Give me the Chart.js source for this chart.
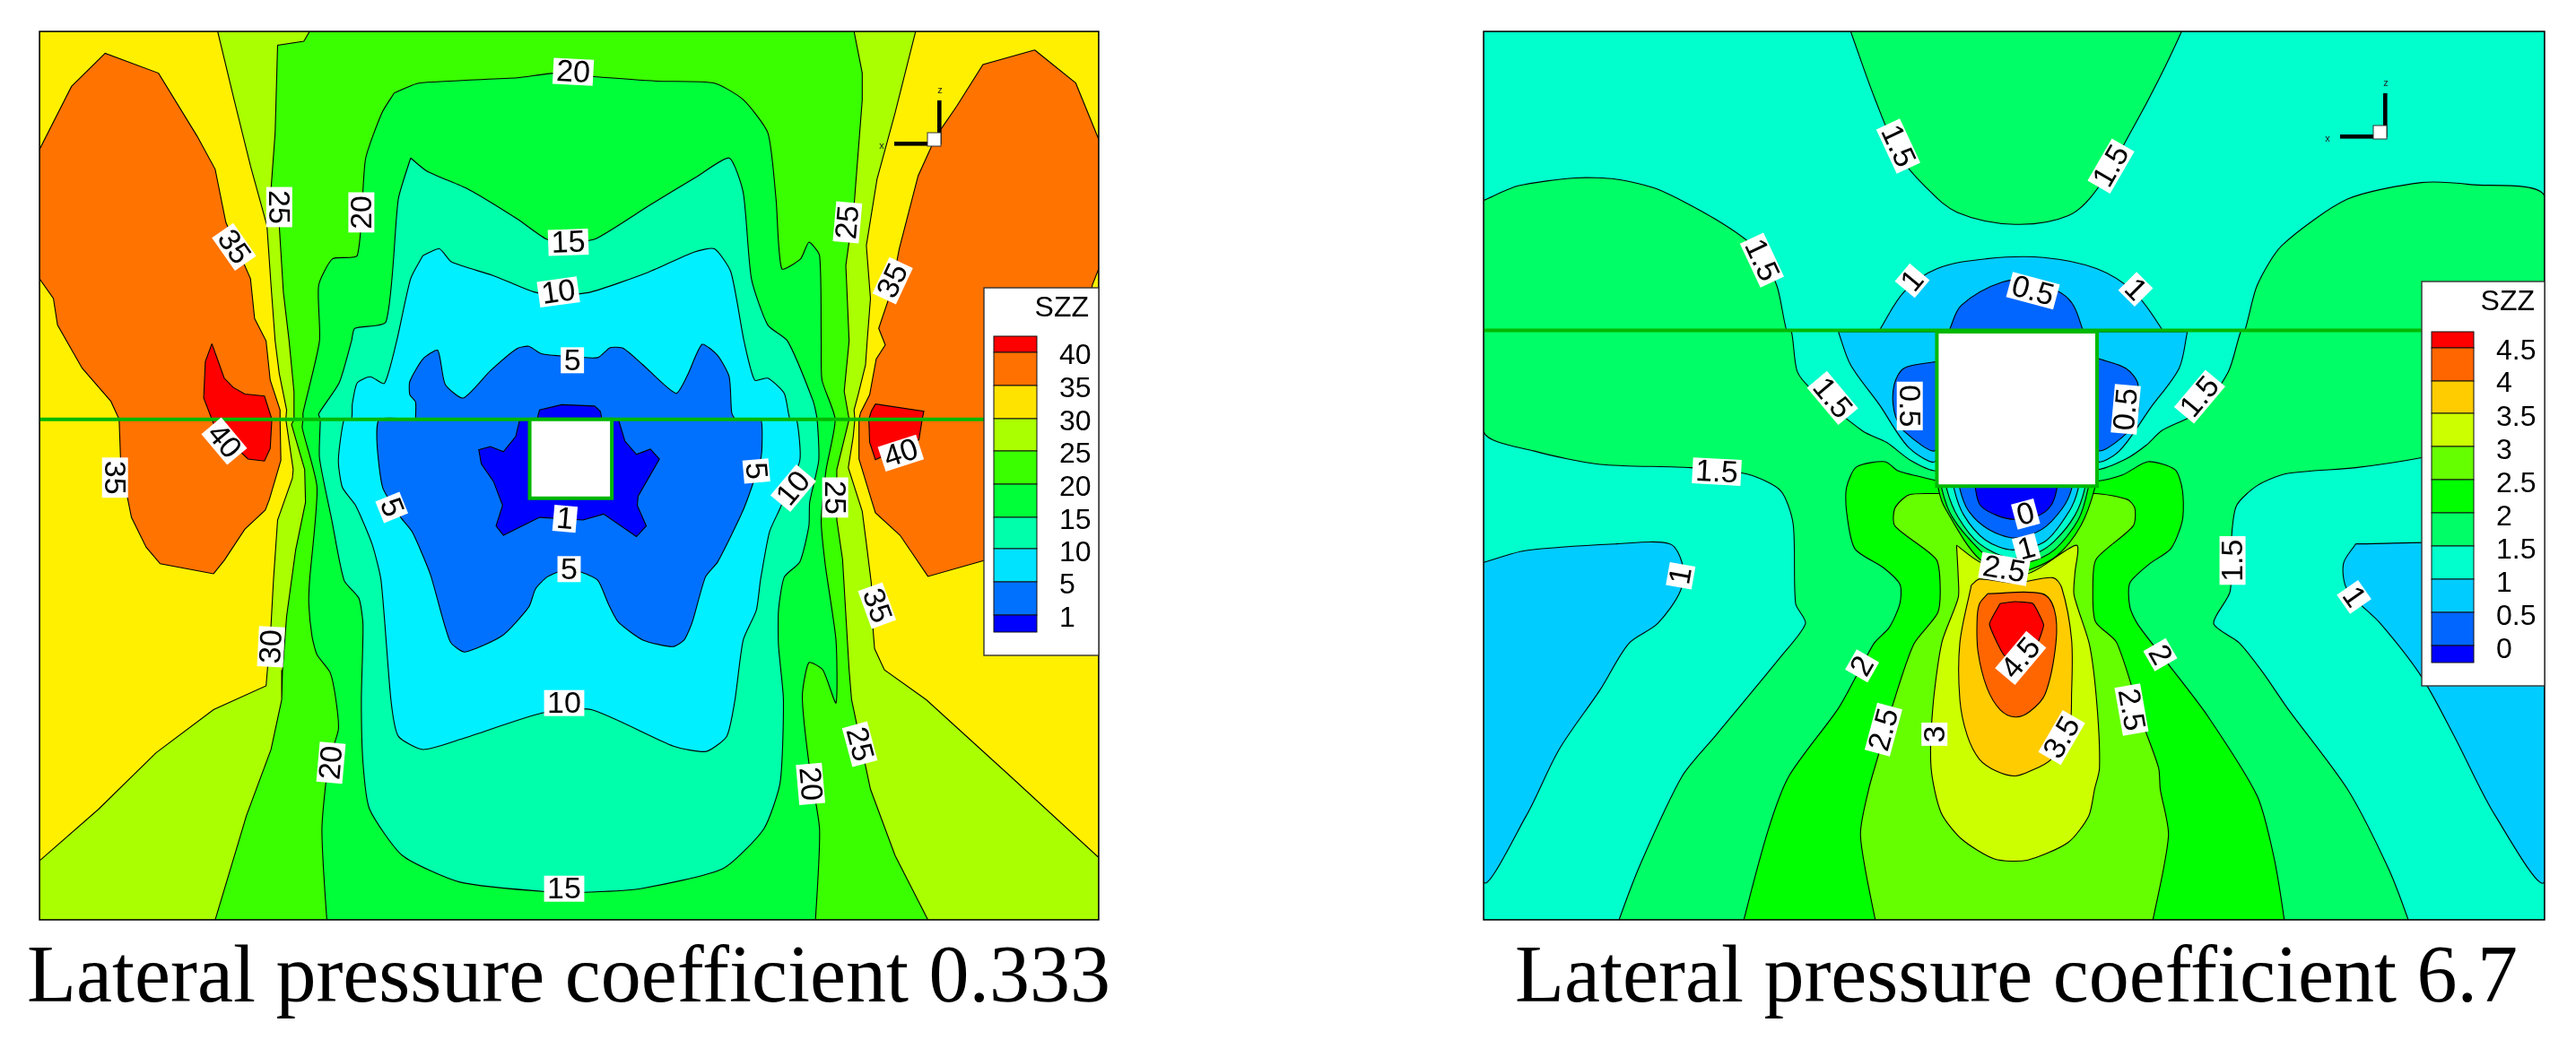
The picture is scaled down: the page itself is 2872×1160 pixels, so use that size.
<!DOCTYPE html>
<html><head><meta charset="utf-8">
<script src="https://cdn.jsdelivr.net/npm/chart.js@4/dist/chart.umd.js"></script>
<style>html,body{margin:0;background:#fff;width:2872px;height:1160px;overflow:hidden}canvas{position:absolute;top:0}</style>
</head><body>
<canvas id="a" style="left:0" width="1436" height="1160"></canvas>
<canvas id="b" style="left:1436px" width="1436" height="1160"></canvas>
<script>
// ---------- left panel: lateral pressure coefficient 0.333 ----------
const leftLevels=[40,35,30,25,20,15,10,5,1];
const leftLegendColors=['#ff0000','#ff7100','#ffe300','#aaff00','#39ff00','#00ff39','#00ffaa','#00e3ff','#0071ff','#0000ff'];
const leftTitle='Lateral pressure coefficient 0.333';
const leftBase=[[48,47],[1338,47],[1338,1387],[48,1387]];
const left35a=[[48,225],[87,130],[128,80],[193,110],[240,205],[262,255],[275,335],[305,420],[310,480],[324,514],[329,573],[341,618],[341,632],[342,694],[328,753],[323,769],[298,798],[273,845],[260,865],[195,850],[178,825],[160,780],[147,700],[145,632],[135,605],[100,555],[70,490],[65,450],[48,420]];
const left40a=[[258,518],[273,570],[284,584],[298,594],[322,597],[331,632],[329,676],[322,695],[302,692],[262,645],[248,600],[250,545]];
const left35b=[[1260,75],[1197,97],[1165,160],[1140,205],[1118,265],[1095,375],[1085,440],[1070,495],[1078,520],[1067,541],[1059,595],[1048,622],[1046,632],[1046,692],[1061,753],[1066,773],[1096,807],[1130,869],[1198,845],[1320,800],[1330,430],[1338,405],[1338,210],[1310,125]];
const left40b=[[1066,609],[1125,620],[1123,632],[1119,663],[1066,693],[1059,667],[1058,632],[1061,620]];
const left30=[[265,47],[285,150],[305,250],[325,340],[330,430],[335,514],[340,563],[349,618],[348,632],[357,708],[356,721],[338,784],[333,874],[330,942],[324,1034],[260,1070],[190,1135],[120,1220],[48,1298],[48,1387],[1338,1387],[1338,1293],[1230,1170],[1128,1055],[1077,1010],[1065,978],[1063,947],[1061,879],[1056,829],[1050,771],[1033,705],[1039,658],[1041,632],[1040,618],[1045,595],[1054,550],[1056,514],[1060,450],[1055,370],[1068,270],[1090,170],[1115,47]];
const left25=[[377,47],[370,62],[338,68],[335,200],[330,285],[340,340],[345,440],[352,514],[358,591],[358,632],[355,640],[371,708],[372,757],[360,829],[349,929],[344,1010],[343,1055],[330,1130],[300,1230],[262,1387],[1130,1387],[1090,1290],[1060,1190],[1037,1055],[1034,1010],[1026,843],[1019,784],[1019,708],[1034,632],[1028,590],[1034,514],[1030,400],[1040,310],[1045,230],[1050,150],[1050,110],[1040,47]];
const left20=[[480,140],[510,125],[630,117],[675,110],[720,115],[800,122],[870,125],[905,150],[935,200],[945,300],[952,405],[975,390],[985,365],[998,385],[1000,514],[1001,573],[1017,632],[1006,708],[1000,784],[1005,852],[1018,965],[1018,1060],[1002,1010],[985,999],[977,1050],[985,1150],[998,1250],[993,1387],[991,1387],[400,1387],[398,1387],[392,1250],[400,1150],[412,1100],[409,1055],[402,1014],[386,987],[380,960],[376,911],[377,875],[386,735],[368,645],[369,632],[369,622],[389,514],[388,430],[405,390],[435,385],[445,240],[465,170]];
const left15=[[500,238],[520,258],[570,285],[630,330],[665,360],[690,365],[725,360],[790,310],[850,265],[888,238],[905,290],[915,420],[935,490],[959,514],[990,604],[995,632],[997,694],[986,757],[985,793],[974,847],[955,870],[948,920],[948,974],[954,1055],[950,1180],[930,1250],[880,1310],[780,1340],[720,1345],[670,1345],[560,1330],[490,1290],[450,1220],[442,1150],[440,1055],[442,942],[437,902],[419,875],[404,784],[389,690],[390,632],[388,624],[413,577],[428,514],[432,495],[470,485],[485,300]];
const left10=[[515,385],[535,375],[550,395],[600,415],[650,440],[680,445],[720,440],[790,410],[845,380],[870,375],[890,410],[906,514],[919,573],[935,570],[955,593],[962,632],[970,632],[974,694],[950,766],[937,802],[926,875],[921,920],[905,965],[895,1055],[885,1110],[860,1133],[820,1125],[720,1070],[660,1075],[560,1115],[515,1130],[485,1110],[476,1055],[464,875],[453,820],[433,762],[417,735],[412,694],[419,632],[428,632],[429,609],[435,577],[451,568],[468,578],[483,514],[500,420]];
const left5=[[506,632],[506,606],[499,595],[499,575],[515,541],[533,528],[542,579],[564,600],[597,559],[630,525],[644,522],[659,533],[690,537],[728,539],[743,524],[759,525],[783,550],[823,593],[837,566],[855,519],[874,536],[888,568],[891,622],[896,632],[926,632],[928,667],[926,694],[906,766],[874,847],[859,870],[843,938],[833,965],[819,975],[783,965],[753,938],[741,911],[728,875],[706,862],[681,862],[666,870],[652,888],[644,915],[612,958],[566,983],[548,967],[524,866],[502,802],[488,780],[466,735],[459,667],[462,632]];
const left1top=[[654,632],[657,618],[684,610],[724,612],[731,620],[733,632]];
const left1low=[[633,632],[628,658],[613,681],[597,673],[583,678],[586,699],[601,726],[612,762],[604,793],[613,807],[657,780],[710,784],[735,775],[775,809],[787,793],[776,762],[777,748],[803,692],[792,677],[775,685],[761,665],[753,632]];
const leftWire=[[48,632],[1338,632]];
const leftHole=[[645,632],[745,632],[745,751],[645,751]];
const leftLabels=[['20',698,108,3],['15',692,365,-2],['10',680,440,-8],['5',697,543,0],['25',340,312,90],['20',440,320,-90],['35',285,372,55],['40',273,665,50],['35',140,720,90],['5',477,765,68],['1',688,782,5],['5',693,858,0],['30',330,975,-87],['20',403,1150,-85],['10',687,1060,0],['15',687,1340,0],['25',1032,335,-85],['35',1087,423,-65],['5',921,710,85],['10',966,736,-50],['25',1017,750,90],['40',1097,683,-18],['35',1068,913,70],['25',1047,1122,75],['20',987,1182,85]];

// ---------- right panel: lateral pressure coefficient 6.7 ----------
const rightLevels=['4.5','4','3.5','3','2.5','2','1.5','1','0.5','0'];
const rightLegendColors=['#ff0000','#ff6600','#ffcc00','#ccff00','#66ff00','#00ff00','#00ff66','#00ffcc','#00ccff','#0066ff','#0000ff'];
const rightTitle='Lateral pressure coefficient 6.7';
const rightBase=[[238,47],[1530,47],[1530,1387],[238,1387]];
const right1low=[[238,848],[290,830],[400,820],[465,820],[480,850],[478,890],[450,940],[415,970],[380,1040],[330,1130],[290,1230],[238,1328]];
const right1lowR=[[1300,820],[1285,850],[1290,890],[1330,940],[1380,1020],[1420,1110],[1470,1230],[1530,1328],[1530,848],[1440,820]];
const right15top=[[685,47],[715,150],[745,235],[775,280],[815,320],[885,338],[950,325],[985,285],[1030,190],[1060,120],[1088,47],[1086,47]];
const right15=[[238,302],[280,280],[350,268],[400,270],[450,285],[520,330],[570,375],[595,430],[607,498],[613,500],[620,560],[640,590],[700,650],[729,667],[758,694],[789,710],[985,708],[1020,692],[1045,671],[1064,649],[1110,620],[1145,560],[1160,500],[1165,498],[1180,430],[1210,370],[1290,300],[1380,275],[1440,278],[1530,296],[1530,650],[1380,690],[1300,705],[1216,714],[1180,732],[1155,762],[1149,807],[1147,892],[1127,940],[1158,969],[1187,1014],[1217,1068],[1290,1190],[1340,1310],[1364,1387],[1362,1387],[405,1387],[403,1387],[430,1300],[480,1170],[520,1110],[600,990],[630,940],[618,910],[615,790],[600,740],[560,715],[490,705],[380,700],[300,680],[238,650]];
const right1wingL=[[670,500],[685,550],[720,610],[756,675],[789,694],[790,500],[788,500]];
const right1wingR=[[1095,500],[1085,555],[1050,615],[1012,680],[985,694],[985,500],[987,500]];
const right05wingL=[[790,545],[750,555],[738,580],[738,620],[750,650],[789,678]];
const right05wingR=[[985,540],[1020,555],[1035,580],[1030,640],[985,678]];
const right1cap=[[720,498],[750,440],[790,405],[850,390],[920,388],[985,405],[1030,440],[1065,498],[1062,498]];
const right05cap=[[805,498],[820,460],[870,425],[907,425],[950,450],[968,498],[965,498]];
const right2=[[791,725],[743,710],[727,696],[692,704],[680,735],[680,771],[690,827],[725,856],[745,881],[745,910],[732,946],[714,969],[698,1005],[670,1068],[610,1170],[585,1250],[555,1387],[557,1387],[1211,1387],[1213,1387],[1200,1290],[1180,1200],[1120,1080],[1071,1000],[1035,942],[1025,915],[1025,879],[1049,850],[1075,827],[1089,784],[1089,739],[1080,708],[1047,696],[1016,716],[985,725]];
const right25=[[791,744],[756,746],[739,766],[739,793],[789,843],[794,883],[791,924],[762,971],[736,1064],[718,1142],[707,1190],[697,1260],[715,1387],[717,1387],[1051,1387],[1053,1387],[1072,1260],[1062,1190],[1060,1158],[1042,1095],[1009,969],[983,937],[980,883],[984,843],[1029,793],[1031,766],[1022,753],[983,744]];
const right3=[[814,822],[842,847],[900,865],[960,822],[958,865],[957,897],[976,973],[985,1064],[988,1158],[982,1190],[975,1230],[950,1270],[900,1297],[860,1295],[820,1265],[795,1225],[783,1158],[785,1068],[796,969],[816,901],[816,870]];
const right35=[[832,882],[842,873],[885,879],[931,871],[942,886],[954,964],[954,1046],[951,1100],[929,1145],[903,1163],[885,1170],[863,1163],[842,1145],[827,1109],[818,1055],[818,969]];
const right4=[[852,895],[918,895],[933,919],[935,969],[922,1046],[903,1073],[885,1081],[867,1070],[851,1037],[840,982],[839,933],[842,910]];
const right45=[[867,910],[885,907],[907,910],[920,942],[911,973],[873,989],[854,941]];
const rightArc25=[[792,715],[792,737],[800,766],[842,843],[885,862],[903,859],[936,838],[965,793],[982,737],[982,715]];
const rightArc2=[[796,715],[796,737],[809,780],[842,829],[863,847],[903,847],[933,829],[962,784],[974,737],[974,715]];
const rightArc15=[[802,715],[802,737],[816,780],[842,820],[878,841],[911,834],[933,816],[958,777],[970,737],[970,715]];
const rightArc1=[[811,715],[811,737],[823,777],[849,814],[882,829],[922,816],[951,771],[962,737],[962,715]];
const rightArc05=[[818,715],[818,737],[829,771],[853,798],[885,811],[918,798],[943,766],[954,737],[954,715]];
const rightArc0=[[837,715],[837,737],[843,762],[863,777],[885,783],[914,777],[929,762],[936,737],[936,715]];
const rightWire=[[238,498],[1530,498]];
const rightHole=[[790,500],[985,500],[985,733],[790,733]];
const rightLabels=[['1.5',743,220,65],['1.5',1002,250,-60],['1.5',577,392,65],['1',760,423,-50],['0.5',907,438,15],['1',1032,436,45],['1.5',663,600,50],['0.5',757,612,90],['0.5',1020,617,-85],['1.5',1110,598,-50],['1.5',522,711,3],['0',898,775,-15],['1',899,827,-15],['2.5',872,858,10],['1.5',1150,845,-90],['1',478,868,-80],['1',1298,900,55],['4.5',892,992,-50],['2',699,1004,-60],['2',1062,987,60],['2.5',725,1100,-75],['3',787,1107,-90],['2.5',1027,1070,80],['3.5',942,1112,-60]];

const GREEN='#00b800', LINE='#000000';
const leftLayers=[[leftBase,'#fff000',0],[left35a,'#ff7300',0],[left40a,'#ff0000',0],[left35b,'#ff7300',0],[left40b,'#ff0000',0],[left30,'#aaff00',0],[left25,'#39ff00',0],[left20,'#00ff39',.2],[left15,'#00ffaa',.2],[left10,'#00f0ff',.2],[left5,'#0071ff',.2],[left1top,'#0000ff',0],[left1low,'#0000ff',0]];
const rightLayers=[[rightBase,'#00ffcc',0],[right1low,'#00ccff',.3],[right1lowR,'#00ccff',.3],[right15top,'#00ff66',.35],[right15,'#00ff66',.25],[right1wingL,'#00ccff',.3],[right1wingR,'#00ccff',.3],[right05wingL,'#0066ff',.3],[right05wingR,'#0066ff',.3],[right1cap,'#00ccff',.35],[right05cap,'#0066ff',.35],[right2,'#00ff00',.25],[right25,'#66ff00',.25],[right3,'#ccff00',.25],[right35,'#ffcc00',.3],[right4,'#ff6600',.35],[right45,'#ff0000',.12],[rightArc25,'#00ff00',.3],[rightArc2,'#00ff66',.3],[rightArc15,'#00ffcc',.3],[rightArc1,'#00ccff',.3],[rightArc05,'#0066ff',.3],[rightArc0,'#0000ff',.3]];

function ds(points,fillColor,tension=0,close=true){
  const p=close?points.concat([points[0]]):points;
  return {data:p.map(([x,y])=>({x,y})),showLine:true,fill:close?'shape':false,backgroundColor:fillColor,borderColor:LINE,borderWidth:1.1,pointRadius:0,tension};
}
function wire(points){return Object.assign(ds(points,GREEN,0,false),{borderColor:GREEN,borderWidth:4});}
function hole(points){return Object.assign(ds(points,'#ffffff'),{borderColor:GREEN,borderWidth:4});}

const overlay=(cfg)=>({id:'overlay',afterDatasetsDraw(c){
  const g=c.ctx,x=c.scales.x,y=c.scales.y,A=c.chartArea;
  g.save();
  g.strokeStyle='#000';g.lineWidth=1.4;g.strokeRect(A.left,A.top,A.right-A.left,A.bottom-A.top);
  g.textAlign='center';g.textBaseline='middle';g.font='34px "Liberation Sans"';
  for(const [t,px,py,r] of cfg.labels){
    const X=x.getPixelForValue(px),Y=y.getPixelForValue(py),w=g.measureText(t).width+7,h=29;
    g.save();g.translate(X,Y);g.rotate(r*Math.PI/180);
    g.fillStyle='#fff';g.fillRect(-w/2,-h/2,w,h);
    g.fillStyle='#000';g.fillText(t,0,1.5);g.restore();
  }
  // axis triad
  const T=cfg.triad;
  g.fillStyle='#000';g.fillRect(T.x-51,T.y-3,52,4.6);g.fillRect(T.x-3,T.y-49,4.6,49);
  g.fillStyle='#fff';g.fillRect(T.x-14,T.y-13,15,15);g.strokeStyle='#333';g.lineWidth=1;g.strokeRect(T.x-14,T.y-13,15,15);
  g.fillStyle='#222';g.font='11px "Liberation Sans"';g.fillText('z',T.x,T.y-60);g.fillText('x',T.x-65,T.y+2);
  // legend
  const L=cfg.legend;
  g.fillStyle='#fff';g.fillRect(L.x,L.y,L.w,L.h);g.strokeStyle='#333';g.lineWidth=1.4;g.strokeRect(L.x,L.y,L.w,L.h);
  for(let i=0;i<L.colors.length;i++){
    g.fillStyle=L.colors[i];g.fillRect(L.barX,L.stops[i],L.barW,L.stops[i+1]-L.stops[i]);
    g.strokeStyle='#111';g.lineWidth=1;g.strokeRect(L.barX,L.stops[i],L.barW,L.stops[i+1]-L.stops[i]);
  }
  g.fillStyle='#000';g.font='32px "Liberation Sans"';g.textAlign='right';g.fillText('SZZ',L.titleX,L.titleY);
  g.textAlign='left';
  L.levels.forEach((t,i)=>g.fillText(String(t),L.textX,L.textY[i]));
  // panel caption
  g.textAlign='center';g.textBaseline='alphabetic';g.font='90px "Liberation Serif"';g.fillStyle='#000';
  g.fillText(cfg.title,cfg.titleX,cfg.titleY);
  g.restore();
}});

function make(id,layers,extra,xr,yr,pad,cfg){
  const datasets=layers.map(([p,c,t])=>ds(p,c,t)).concat(extra).reverse();
  return new Chart(document.getElementById(id),{type:'scatter',data:{datasets},plugins:[overlay(cfg)],options:{
    responsive:false,animation:false,devicePixelRatio:1,
    layout:{padding:pad},
    scales:{x:{type:'linear',display:false,min:xr[0],max:xr[1]},y:{type:'linear',display:false,reverse:true,min:yr[0],max:yr[1]}},
    plugins:{legend:{display:false},tooltip:{enabled:false},title:{display:false}}
  }});
}
make('a',leftLayers,[wire(leftWire),hole(leftHole)],[48,1338],[47,1387],{left:44,right:211,top:35,bottom:134},{
  title:leftTitle,titleX:634,titleY:1117,
  labels:leftLabels,triad:{x:1048,y:161},
  legend:{x:1097,y:321,w:128,h:410,barX:1108,barW:48,stops:[375,393,430,467,503,540,577,612,649,686,705],colors:leftLegendColors,levels:leftLevels,titleX:1214,titleY:344,textX:1181,textY:[397,434,471,507,544,581,617,653,690]}
});
make('b',rightLayers,[wire(rightWire),hole(rightHole)],[238,1530],[47,1387],{left:218,right:35,top:35,bottom:134},{
  title:rightTitle,titleX:812,titleY:1117,
  labels:rightLabels,triad:{x:1224,y:153},
  legend:{x:1264,y:314,w:137,h:451,barX:1275,barW:47,stops:[370,388,425,461,498,535,572,609,646,683,720,739],colors:rightLegendColors,levels:rightLevels,titleX:1390,titleY:337,textX:1347,textY:[392,428,466,503,540,577,614,651,688,725]}
});
</script>
</body></html>
